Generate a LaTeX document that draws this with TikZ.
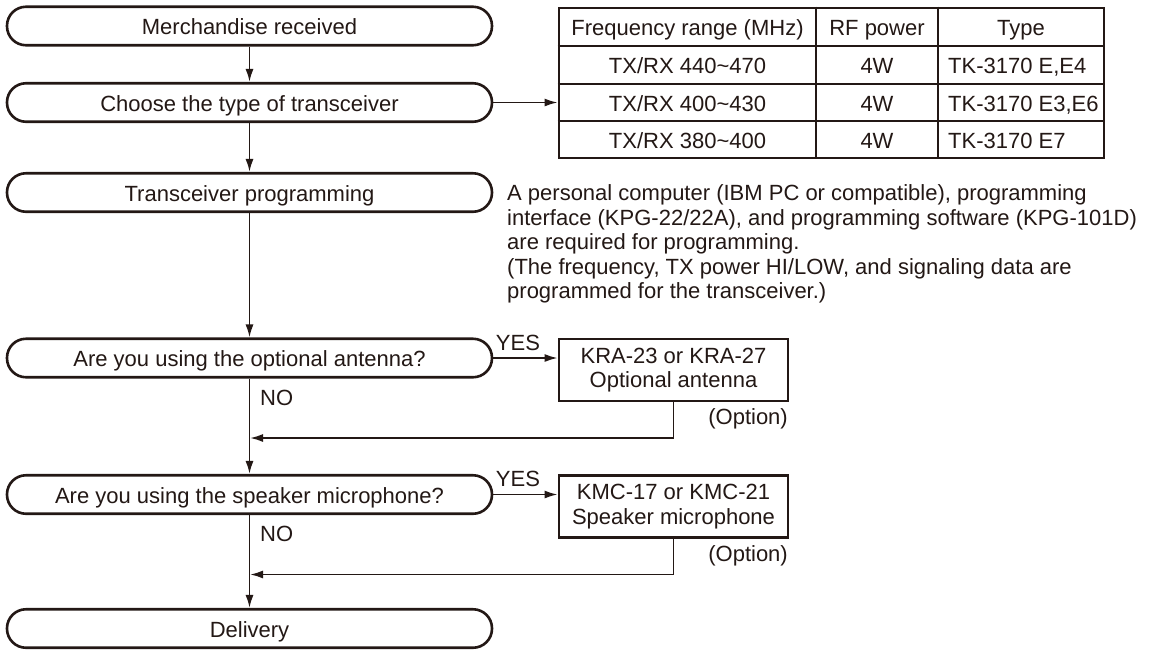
\documentclass[tikz,border=0pt]{standalone}
\usepackage{fontspec}
\setmainfont{Liberation Sans}
\usetikzlibrary{arrows.meta}
\definecolor{ink}{RGB}{35,24,21}
\tikzset{
  term/.style={draw=ink,line width=2.6pt,rectangle,rounded corners=19pt,minimum width=485pt,minimum height=38.5pt,inner sep=0pt,text height=17.5pt,text depth=0pt},
  optbox/.style={draw=ink,line width=2.8pt,minimum width=229pt,minimum height=62pt,inner sep=0pt,align=center},
  cell/.style={inner sep=0pt,text height=17pt,text depth=0pt},
  flow/.style={draw=ink,line width=1.8pt,-{Latex[length=13pt,width=8pt]}},
  lbl/.style={inner sep=0pt}
}
\begin{document}
\begin{tikzpicture}[x=1pt,y=-1pt,font=\fontsize{22}{24.5}\selectfont,text=ink]
      \fill[white] (0,0) rectangle (1154,649);
      \node[term] (recv) at (249.5,26) {Merchandise received};
      \node[term] (choose) at (249.5,102.5) {Choose the type of transceiver};
      \node[term] (prog) at (249.5,192.5) {Transceiver programming};
      \node[term] (ant) at (249.5,358) {Are you using the optional antenna?};
      \node[term] (mic) at (249.5,494.5) {Are you using the speaker microphone?};
      \node[term] (deliv) at (249.5,628.5) {Delivery};
      \node[draw=ink,line width=2.8pt,minimum width=545pt,minimum height=150pt,inner sep=0pt] (tbl) at (831.5,83) {};
      \draw[ink,line width=1.7pt] (tbl.west |- 0,46) -- (tbl.east |- 0,46) (tbl.west |- 0,84) -- (tbl.east |- 0,84) (tbl.west |- 0,121) -- (tbl.east |- 0,121);
      \draw[ink,line width=1.7pt] (tbl.north -| 816,0) -- (tbl.south -| 816,0) (tbl.north -| 938,0) -- (tbl.south -| 938,0);
      \node[cell] (hfreq) at (687.5,27) {Frequency range (MHz)};
      \node[cell] (hpow) at (877,27) {RF power};
      \node[cell] (htype) at (1021,27) {Type};
      \node[cell] (freqa) at (687.5,65) {TX/RX 440\textasciitilde470};
      \node[cell] (freqb) at (687.5,102.5) {TX/RX 400\textasciitilde430};
      \node[cell] (freqc) at (687.5,139.5) {TX/RX 380\textasciitilde400};
      \node[cell] (powa) at (877,65) {4W};
      \node[cell] (powb) at (877,102.5) {4W};
      \node[cell] (powc) at (877,139.5) {4W};
      \node[cell,anchor=west] (typea) at (948,65) {TK-3170 E,E4};
      \node[cell,anchor=west] (typeb) at (948,102.5) {TK-3170 E3,E6};
      \node[cell,anchor=west] (typec) at (948,139.5) {TK-3170 E7};
      \node[lbl,anchor=north west,align=left] (note) at (507,184.7) {A personal computer (IBM PC or compatible), programming\\interface (KPG-22/22A), and programming software (KPG-101D)\\are required for programming.\\(The frequency, TX power HI/LOW, and signaling data are\\programmed for the transceiver.)};
      \node[optbox] (kra) at (673.5,370) {KRA-23 or KRA-27\\Optional antenna};
      \node[optbox] (kmc) at (673.5,506.5) {KMC-17 or KMC-21\\Speaker microphone};
      \node[lbl] (yesa) at (518,343) {YES};
      \node[lbl] (yesb) at (518,479) {YES};
      \node[lbl,anchor=west] (noa) at (260,397.5) {NO};
      \node[lbl,anchor=west] (nob) at (260,534) {NO};
      \node[lbl,anchor=east] (opta) at (788,419) {(Option)};
      \node[lbl,anchor=east] (optb) at (788,555.5) {(Option)};
      \coordinate (joina) at (250,438);
      \coordinate (joinb) at (250,574.5);
      \draw[flow] (recv) -- (choose);
      \draw[flow] (choose) -- (prog);
      \draw[flow] (prog) -- (ant);
      \draw[flow] (ant) -- (mic);
      \draw[flow] (mic) -- (deliv);
      \draw[flow] (choose.east) -- (choose.east -| tbl.west);
      \draw[flow] (ant.east) -- (ant.east -| kra.west);
      \draw[flow] (mic.east) -- (mic.east -| kmc.west);
      \draw[flow] (kra.south) |- (joina);
      \draw[flow] (kmc.south) |- (joinb);
    \end{tikzpicture}
\end{document}
